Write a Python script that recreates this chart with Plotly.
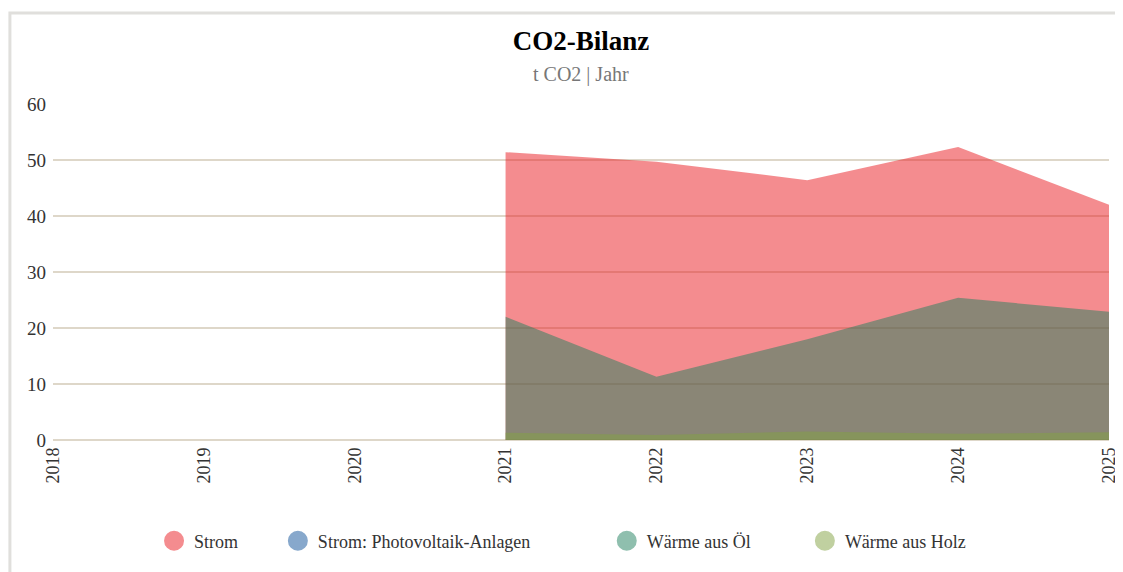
import plotly.graph_objects as go

years = [2018, 2019, 2020, 2021, 2022, 2023, 2024, 2025]
strom = [None, None, None, 51.4, 49.7, 46.4, 52.3, 42.0]
pv = [None, None, None, 0, 0, 0, 0, 0]
oel = [None, None, None, 22.0, 11.3, 18.0, 25.4, 22.9]
holz = [None, None, None, 1.3, 0.9, 1.5, 1.1, 1.4]

names = ["Strom", "Strom: Photovoltaik-Anlagen", "Wärme aus Öl", "Wärme aus Holz"]
series = [strom, pv, oel, holz]
fills = ["rgba(233,25,31,0.5)", "rgba(15,81,153,0.5)", "rgba(31,127,93,0.5)", "rgba(129,161,65,0.5)"]
legend_colors = ["#f48c8f", "#87a8cc", "#8fbfae", "#c0d0a0"]

OFF = 8  # page body margin
legend_px = [155, 280, 612, 812]  # page coordinates of legend left edges

W, H = 1123 - OFF, 572 - OFF
L = 53 - OFF
T = 104 - OFF
R = W - (1119 - OFF)
B = H - (440 - OFF)
pw = W - L - R
ph = H - T - B

def px_x(x):
    return (x - OFF - L) / pw

def px_y(y):
    return ((440 - OFF) - (y - OFF)) / ph

fig = go.Figure()
for i, (n, s) in enumerate(zip(names, series)):
    fig.add_trace(go.Scatter(x=years, y=s, name=n, mode="lines", fill="tozeroy",
                             fillcolor=fills[i], line=dict(width=0, color=fills[i]),
                             showlegend=False, connectgaps=False, hoverinfo="x+y+name"))
for i, n in enumerate(names):
    lg = "legend" if i == 0 else f"legend{i+1}"
    fig.add_trace(go.Scatter(x=[None], y=[None], name=n, mode="markers",
                             marker=dict(size=16, color=legend_colors[i], symbol="circle",
                                         line=dict(width=4, color=legend_colors[i])),
                             legend=lg, showlegend=True))

font_family = "Liberation Serif, Times New Roman, serif"
layout_legends = {}
for i in range(4):
    key = "legend" if i == 0 else f"legend{i+1}"
    layout_legends[key] = dict(x=px_x(legend_px[i]), y=px_y(541),
                               xanchor="left", yanchor="middle", orientation="h",
                               font=dict(family=font_family, size=18, color="#333333"),
                               bgcolor="rgba(0,0,0,0)")

fig.update_layout(
    width=W, height=H,
    margin=dict(l=L, r=R, t=T, b=B),
    paper_bgcolor="white", plot_bgcolor="white",
    font=dict(family=font_family, color="#333333"),
    title=dict(text="<b>CO2-Bilanz</b>", x=0.5, xref="paper", xanchor="center",
               y=1 - (41 - OFF) / H, yanchor="middle",
               font=dict(family=font_family, size=27, color="#000000")),
    annotations=[dict(text="t CO2 | Jahr", xref="paper", yref="paper",
                      x=0.5, y=px_y(74), xanchor="center", yanchor="middle",
                      showarrow=False, font=dict(family=font_family, size=20, color="#777777"))],
    xaxis=dict(range=[2018, 2025], tickmode="array", tickvals=years,
               ticktext=[str(y) for y in years], tickangle=-90, showgrid=False,
               zeroline=False, showline=False, ticks="", ticklabelstandoff=3,
               ticklabeloverflow="allow",
               tickfont=dict(family=font_family, size=18, color="#333333")),
    yaxis=dict(range=[0, 60], dtick=10, showgrid=True, gridcolor="#ded7c9", gridwidth=2,
               zeroline=True, zerolinecolor="#ded7c9", zerolinewidth=2, showline=False,
               ticks="", ticklabelstandoff=6,
               tickfont=dict(family=font_family, size=19, color="#333333")),
    shapes=[dict(type="rect", xref="paper", yref="paper",
                 x0=px_x(9.5), x1=px_x(1140),
                 y0=px_y(600), y1=px_y(13),
                 line=dict(color="#e0dfdc", width=3), fillcolor="rgba(0,0,0,0)", layer="below")],
    **layout_legends,
)

fig.write_html("out.html")
